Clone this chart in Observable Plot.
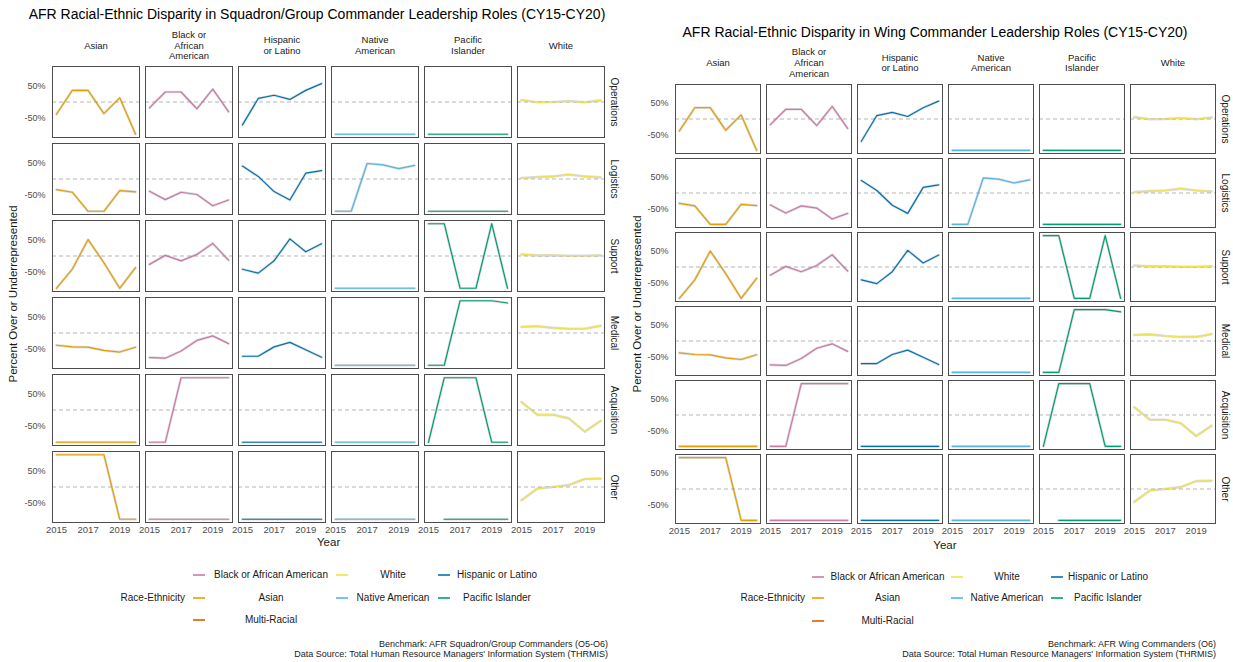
<!DOCTYPE html>
<html>
<head>
<meta charset="utf-8">
<script src="https://cdn.jsdelivr.net/npm/d3@7"></script>
<script src="https://cdn.jsdelivr.net/npm/@observablehq/plot@0.6"></script>
<style>
  html, body { margin: 0; padding: 0; background: #fff; }
  #root { position: relative; width: 1233px; height: 662px; background: #fff; overflow: hidden;
          font-family: "Liberation Sans", Arial, sans-serif; color: #1a1a1a; }
  .abs { position: absolute; white-space: nowrap; line-height: 1; }
  .plotwrap { position: absolute; top: 0; }
</style>
</head>
<body>
<div id="root"></div>
<script>
// ---------------- data ----------------
const years = [2015, 2016, 2017, 2018, 2019, 2020];
const races = ["Asian", "Black or African American", "Hispanic or Latino", "Native American", "Pacific Islander", "White"];
const headerLabels = ["Asian", "Black or\nAfrican\nAmerican", "Hispanic\nor Latino", "Native\nAmerican", "Pacific\nIslander", "White"];
const roles = ["Operations", "Logistics", "Support", "Medical", "Acquisition", "Other"];
const colorDomain = ["Asian", "Black or African American", "Hispanic or Latino", "Native American", "Pacific Islander", "White", "Multi-Racial"];
const colorRange = ["#E69F00", "#CC79A7", "#0072B2", "#56B4E9", "#009E73", "#F0E442", "#D55E00"];
const yTicks = [-50, 50];
const xTicks = [2015, 2017, 2019];

// percent over/under-represented; rows follow `roles`, columns follow `years`
const asian = [
  [-38, 36, 36, -36, 13, -100],
  [-33, -41, -100, -100, -36, -40],
  [-100, -41, 51, -21, -100, -36],
  [-38, -43, -44, -54, -59, -44],
  [-100, -100, -100, -100, -100, -100],
  [100, 100, 100, 100, -100, -100]
];
const black = [
  [-18, 31, 31, -21, 40, -30],
  [-38, -64, -41, -48, -83, -65],
  [-26, 2, -15, 5, 39, -13],
  [-76, -78, -56, -23, -9, -33],
  [-100, -100, 100, 100, 100, 100],
  [-100, -100, -100, -100, -100, -100]
];
const hispanic = [
  [-71, 11, 21, 8, 36, 57],
  [40, 8, -39, -65, 18, 26],
  [-41, -53, -15, 53, 13, 38],
  [-72, -72, -43, -29, -52, -75],
  [-100, -100, -100, -100, -100, -100],
  [-100, -100, -100, -100, -100, -100]
];
const native = [
  [-100, -100, -100, -100, -100, -100],
  [-100, -100, 48, 44, 32, 42],
  [-100, -100, -100, -100, -100, -100],
  [-100, -100, -100, -100, -100, -100],
  [-100, -100, -100, -100, -100, -100],
  [-100, -100, -100, -100, -100, -100]
];
const pacific = [
  [-100, -100, -100, -100, -100, -100],
  [-100, -100, -100, -100, -100, -100],
  [100, 100, -100, -100, 100, -100],
  [-100, -100, 100, 100, 100, 93],
  [-100, 100, 100, 100, -100, -100],
  [null, -100, -100, -100, -100, -100]
];
const white = [
  [6, -1, 0, 3, -1, 5],
  [3, 6, 8, 14, 8, 5],
  [5, 2, 2, 1, 1, 2],
  [19, 21, 16, 13, 13, 22],
  [25, -15, -15, -26, -67, -34],
  [-41, -5, 0, 6, 25, 26]
];

// legend layout: rows of [label]
const legendRows = [
  ["Black or African American", "White", "Hispanic or Latino"],
  ["Asian", "Native American", "Pacific Islander"],
  ["Multi-Racial"]
];

// ---------------- build table ----------------
const seriesByRace = [asian, black, hispanic, native, pacific, white];
const table = [];
races.forEach((race, i) => {
  roles.forEach((role, j) => {
    years.forEach((year, k) => {
      table.push({race, role, year, value: seriesByRace[i][j][k]});
    });
  });
});
const headerMap = Object.fromEntries(races.map((r, i) => [r, headerLabels[i]]));

const root = document.getElementById("root");

function place(text, x, y, o = {}) {
  const d = document.createElement("div");
  d.className = "abs";
  d.textContent = text;
  d.style.left = x + "px";
  d.style.top = y + "px";
  d.style.fontSize = (o.size || 10) + "px";
  d.style.color = o.color || "#1a1a1a";
  const tx = o.anchor === "end" ? "-100%" : o.anchor === "start" ? "0" : "-50%";
  d.style.transform = `translate(${tx}, -50%)` + (o.rotate ? ` rotate(${o.rotate}deg)` : "");
  if (o.rotate) d.style.transformOrigin = "50% 50%";
  root.appendChild(d);
  return d;
}

function key(x, y, color) {
  const d = document.createElement("div");
  d.style.position = "absolute";
  d.style.left = x + "px";
  d.style.top = (y - 1) + "px";
  d.style.width = "12px";
  d.style.height = "2px";
  d.style.background = color;
  d.style.opacity = "0.8";
  root.appendChild(d);
}

function chart(cfg) {
  const svg = Plot.plot({
    width: cfg.width,
    height: cfg.height,
    marginLeft: cfg.marginLeft,
    marginRight: cfg.marginRight,
    marginTop: cfg.marginTop,
    marginBottom: cfg.marginBottom,
    style: {background: "transparent", fontFamily: "'Liberation Sans', Arial, sans-serif", overflow: "visible"},
    fx: {domain: races, paddingInner: cfg.px, paddingOuter: 0},
    fy: {domain: roles, paddingInner: cfg.py, paddingOuter: 0},
    x: {domain: [2014.75, 2020.25]},
    y: {domain: [-110, 110]},
    color: {domain: colorDomain, range: colorRange},
    marks: [
      Plot.ruleY([0], {stroke: "#b5b5b5", strokeDasharray: "4,3", strokeWidth: 1}),
      Plot.line(table, {x: "year", y: "value", fx: "race", fy: "role", stroke: "#8a8a8a", strokeOpacity: 0.3, strokeWidth: 2.6}),
      Plot.line(table, {x: "year", y: "value", fx: "race", fy: "role", stroke: "race", strokeWidth: 1.2}),
      Plot.frame({stroke: "#4d4d4d", strokeWidth: 1}),
      Plot.axisX({ticks: xTicks, tickFormat: d => String(d), tickSize: 0, tickPadding: 4, fontSize: 9.5, color: "#4d4d4d", label: null}),
      Plot.axisY({ticks: yTicks, tickFormat: d => d + "%", tickSize: 0, tickPadding: 7, fontSize: 9, color: "#4d4d4d", label: null}),
      Plot.axisFx({anchor: "top", tickSize: 0, tickPadding: cfg.headerPad, tickFormat: d => headerMap[d], lineAnchor: "middle", lineHeight: 1.15, fontSize: 9.5, color: "#1a1a1a", label: null}),
      Plot.axisFy({anchor: "right", tickSize: 0, tickPadding: cfg.rowPad, rotate: 90, textAnchor: "middle", lineAnchor: "middle", fontSize: 10, color: "#1a1a1a", label: null})
    ]
  });
  const wrap = document.createElement("div");
  wrap.className = "plotwrap";
  wrap.style.left = cfg.left + "px";
  wrap.appendChild(svg);
  root.appendChild(wrap);
}

// ---------------- left chart ----------------
chart({left: 0, width: 625, height: 545, marginLeft: 50.2, marginRight: 18, marginTop: 66, marginBottom: 22.7,
       px: 0.062, py: 0.078, headerPad: 21.5, rowPad: 10});
place("AFR Racial-Ethnic Disparity in Squadron/Group Commander Leadership Roles (CY15-CY20)", 317, 14, {size: 14, color: "#000"});
place("Percent Over or Underrepresented", 14, 294, {size: 11.5, rotate: -90});
place("Year", 328.6, 543, {size: 11.5});

// ---------------- right chart ----------------
chart({left: 620, width: 613, height: 550, marginLeft: 54.7, marginRight: 18, marginTop: 81.7, marginBottom: 24.7,
       px: 0.066, py: 0.07, headerPad: 22, rowPad: 10});
place("AFR Racial-Ethnic Disparity in Wing Commander Leadership Roles (CY15-CY20)", 935, 31.7, {size: 14, color: "#000"});
place("Percent Over or Underrepresented", 637.6, 303.5, {size: 11.5, rotate: -90});
place("Year", 944.9, 545.7, {size: 11.5});

// ---------------- legends & captions ----------------
function legend(L) {
  const colorOf = Object.fromEntries(colorDomain.map((c, i) => [c, colorRange[i]]));
  place("Race-Ethnicity", L.titleRight, L.rows[1], {size: 10, anchor: "end"});
  legendRows.forEach((row, r) => {
    row.forEach((name, c) => {
      key(L.keyX[c], L.rows[r], colorOf[name]);
      place(name, L.labelX[c], L.rows[r], {size: 10});
    });
  });
  place(L.bench, L.capRight, 644, {size: 9, anchor: "end"});
  place("Data Source: Total Human Resource Managers' Information System (THRMIS)", L.capRight, 654, {size: 9, anchor: "end"});
}
legend({titleRight: 185, rows: [575, 598, 620], keyX: [193, 336, 438], labelX: [271, 393, 497],
        capRight: 608, bench: "Benchmark: AFR Squadron/Group Commanders (O5-O6)"});
legend({titleRight: 805, rows: [577, 598, 621], keyX: [812, 951, 1051], labelX: [887.5, 1007, 1108],
        capRight: 1216, bench: "Benchmark: AFR Wing Commanders (O6)"});
</script>
</body>
</html>
